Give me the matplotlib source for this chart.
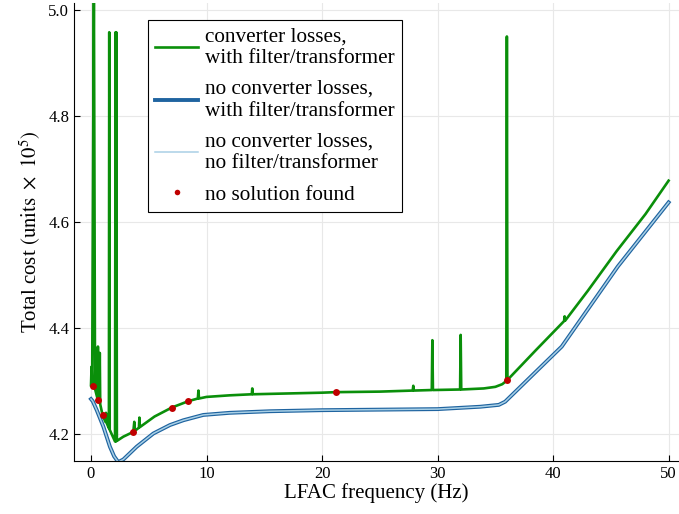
import matplotlib
matplotlib.use("Agg")
import matplotlib.pyplot as plt

# converter losses, with filter/transformer (spikes = failed optimisation runs)
green_freq = [0.0, 0.05, 0.1, 0.25, 0.35, 0.55, 0.6, 0.65, 0.72, 0.76, 0.8, 1.01,
              1.25, 1.3, 1.35, 1.55, 1.58, 1.62, 2.08, 2.13, 2.16, 2.19, 2.24,
              2.8, 3.66, 3.75, 3.8, 4.15, 4.19, 4.23, 5.5, 7.0, 8.43, 9.25, 9.3, 9.35,
              10.0, 12.0, 13.92, 13.96, 14.0, 16.0, 20.0, 21.2, 25.0, 27.85, 27.9,
              27.95, 29.5, 29.55, 29.6, 31.95, 32.0, 32.05, 34.0, 35.0, 35.6, 35.95,
              36.0, 36.05, 38.5, 40.95, 41.0, 41.05, 43.0, 45.5, 48.0, 50.0]
green_cost = [4.292, 4.327, 4.291, 5.05, 4.285, 4.268, 4.365, 4.264, 4.259, 4.353, 4.256,
              4.235, 4.223, 4.240, 4.221, 4.211, 4.958, 4.208, 4.186, 4.958, 4.186,
              4.958, 4.187, 4.195, 4.204, 4.223, 4.206, 4.212, 4.231, 4.213, 4.233,
              4.250, 4.262, 4.267, 4.282, 4.267, 4.270, 4.273, 4.275, 4.286, 4.275,
              4.276, 4.278, 4.279, 4.280, 4.282, 4.291, 4.282, 4.283, 4.377, 4.283,
              4.284, 4.387, 4.284, 4.286, 4.289, 4.294, 4.300, 4.950, 4.302, 4.358,
              4.413, 4.422, 4.414, 4.470, 4.545, 4.615, 4.678]

# no converter losses, with filter/transformer
blue_freq = [0.0, 0.15, 0.5, 1.07, 1.64, 2.0, 2.36, 2.8, 3.95, 5.4, 6.84, 8.0, 9.72,
             12.0, 15.5, 20.0, 25.0, 30.0, 33.7, 35.3, 35.85, 40.75, 45.6, 50.0]
blue_cost = [4.266, 4.262, 4.245, 4.214, 4.176, 4.158, 4.147, 4.152, 4.176, 4.201,
             4.217, 4.226, 4.236, 4.240, 4.243, 4.245, 4.246, 4.247, 4.2515, 4.255,
             4.261, 4.365, 4.516, 4.637]

# no converter losses, no filter/transformer
light_freq = [0.0, 0.15, 0.5, 1.07, 1.64, 2.0, 2.36, 2.8, 3.95, 5.4, 6.84, 8.0, 9.72,
              12.0, 15.5, 20.0, 25.0, 30.0, 33.7, 35.3, 35.85, 40.75, 45.6, 50.0]
light_cost = [4.266, 4.262, 4.245, 4.214, 4.176, 4.158, 4.147, 4.152, 4.176, 4.201,
              4.217, 4.226, 4.236, 4.240, 4.243, 4.245, 4.246, 4.247, 4.2515, 4.255,
              4.261, 4.365, 4.516, 4.637]

# no solution found
fail_freq = [0.15, 0.63, 1.01, 3.66, 6.98, 8.43, 21.2, 36.0]
fail_cost = [4.291, 4.264, 4.235, 4.204, 4.250, 4.262, 4.279, 4.302]

plt.rcParams["font.family"] = "Liberation Serif"
plt.rcParams["mathtext.fontset"] = "stix"

fig = plt.figure(figsize=(6.79, 5.14), dpi=100)
ax = fig.add_axes([0.109, 0.103, 0.891, 0.891])

ax.plot(green_freq, green_cost, color="#0a8f0a", lw=1.9,
        label="converter losses,\nwith filter/transformer", zorder=3)
ax.plot(blue_freq, blue_cost, color="#1f64a0", lw=2.8,
        label="no converter losses,\nwith filter/transformer", zorder=2)
ax.plot(light_freq, light_cost, color="#a9d0e6", lw=1.1,
        label="no converter losses,\nno filter/transformer", zorder=2.5)
ax.plot(fail_freq, fail_cost, "o", color="#c00000", ms=5, mec="none",
        label="no solution found", zorder=4)

ax.set_xlim(-1.47, 50.9)
ax.set_ylim(4.149, 5.013)
ax.set_xticks([0, 10, 20, 30, 40, 50])
ax.set_yticks([4.2, 4.4, 4.6, 4.8, 5.0])
ax.set_yticklabels(["4.2", "4.4", "4.6", "4.8", "5.0"])
ax.tick_params(direction="in", labelsize=12, length=4, width=0.8)
ax.grid(True, color="#e8e8e8", lw=0.8)
ax.set_axisbelow(True)
for s in ["top", "right"]:
    ax.spines[s].set_visible(False)

ax.set_xlabel("LFAC frequency (Hz)", fontsize=15, labelpad=1)
ax.set_ylabel(r"Total cost $\left(\mathrm{units}\ \times\ 10^{5}\right)$", fontsize=15, labelpad=4)

leg = ax.legend(loc="upper left", bbox_to_anchor=(0.122, 0.963), fontsize=15.3,
                frameon=True, fancybox=False, edgecolor="black", framealpha=1,
                handlelength=2.0, labelspacing=0.55, borderpad=0.35, handletextpad=0.35,
                borderaxespad=0, markerscale=0.8)
leg.get_frame().set_linewidth(0.8)
for t in leg.get_texts():
    t.set_linespacing(1.2)

fig.savefig("out.png", dpi=100)
